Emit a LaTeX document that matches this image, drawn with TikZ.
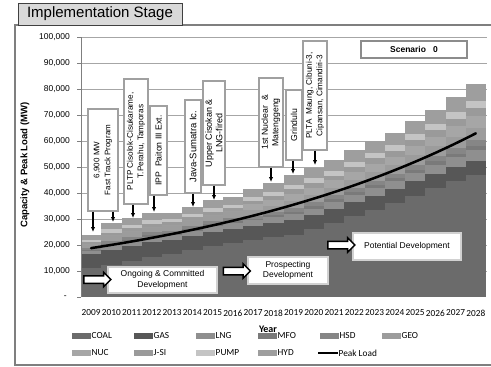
\documentclass[tikz,border=0pt]{standalone}
\usepackage{fontspec}
\setmainfont{Liberation Sans}
\newfontfamily\calfont{Carlito}
\usetikzlibrary{shapes.arrows,arrows.meta}
\definecolor{cCOAL}{HTML}{6B6B6B}
\definecolor{cGAS}{HTML}{575757}
\definecolor{cLNG}{HTML}{8F8F8F}
\definecolor{cMFO}{HTML}{7A7A7A}
\definecolor{cHSD}{HTML}{868686}
\definecolor{cGEO}{HTML}{9C9C9C}
\definecolor{cNUC}{HTML}{A6A6A6}
\definecolor{cJSI}{HTML}{9A9A9A}
\definecolor{cPUMP}{HTML}{C4C4C4}
\definecolor{cHYD}{HTML}{9E9E9E}
\definecolor{framec}{HTML}{7F7F7F}
\definecolor{gridc}{HTML}{A6A6A6}
\definecolor{boxgray}{HTML}{A0A0A0}
\begin{document}
\begin{tikzpicture}[x=1pt,y=-1pt,
  callout/.style={draw=boxgray, fill=white, line width=1.2pt, rotate=90, align=center,
    font=\fontsize{8.7}{10.5}\selectfont, inner sep=1pt},
  devbox/.style={draw=black!18, fill=white, line width=1.2pt, align=center,
    font=\fontsize{8.5}{10.5}\selectfont, inner sep=1pt},
  blockarr/.style={single arrow, draw=black, fill=white, line width=1.5pt,
    minimum height=27pt, inner xsep=0pt, inner ysep=3pt, single arrow head extend=3.5pt,
    single arrow head indent=0pt},
  arr/.style={-{Latex[length=5pt,width=4.5pt]}, line width=1.2pt},
  ylab/.style={anchor=east, font=\fontsize{8.5}{10}\selectfont, inner sep=0pt},
  yrlab/.style={font=\calfont\fontsize{9.3}{11}\selectfont, inner sep=0pt},
  leglab/.style={anchor=west, font=\calfont\fontsize{9.3}{11}\selectfont, inner sep=0.5pt}
]
\useasboundingbox (0,0) rectangle (491,367);
\fill[white] (0,0) rectangle (491,367);
% outer frame
\draw[framec, line width=1.5pt] (493,25) -- (15,25) -- (15,365) -- (493,365);
% title
\node[draw=black!75, fill=black!15, line width=1pt, minimum width=164pt, minimum height=22pt,
  inner sep=0pt, font=\fontsize{15}{18}\selectfont] (title) at (100,14) {Implementation Stage};
% grid
\foreach \k in {1,...,10} \draw[gridc, line width=0.9pt] (81,{297-26*\k}) -- (487,{297-26*\k});
% bars
\begin{scope}[shift={(81,297)}, x=20.25pt, y=2.6pt]
\foreach \i/\tot/\coal in {0/23.8/11, 1/28.5/12.5, 2/30.2/14, 3/32.3/15.5, 4/32.5/16.5,
  5/34.6/18, 6/37.3/19.5, 7/38.5/20.8, 8/41.5/22, 9/43.8/23, 10/47/24, 11/49.6/26,
  12/52.7/28.5, 13/56.5/31, 14/60/33.5, 15/63/36, 16/67.7/39, 17/72/42, 18/77/44.5, 19/82/47}{
  \pgfmathsetmacro\post{\i>7}
  \pgfmathsetmacro\gas{5.5}
  \pgfmathsetmacro\rest{\tot-\coal-\gas}
  \pgfmathsetmacro\yA{\coal}
  \pgfmathsetmacro\yB{\yA+\gas}
  \pgfmathsetmacro\yC{\yB+\rest*(0.18-0.04*\post)}
  \pgfmathsetmacro\yD{\yC+\rest*(0.06-0.01*\post)}
  \pgfmathsetmacro\yE{\yD+\rest*(0.10-0.02*\post)}
  \pgfmathsetmacro\yF{\yE+\rest*(0.20-0.04*\post)}
  \pgfmathsetmacro\yG{\yF+\rest*(0.15*\post)}
  \pgfmathsetmacro\yH{\yG+\rest*0.10}
  \pgfmathsetmacro\yI{\yH+\rest*(0.12-0.02*\post)}
  \fill[cCOAL] (\i,0) rectangle (\i+1,\yA);
  \fill[cGAS] (\i,\yA) rectangle (\i+1,\yB);
  \fill[cLNG] (\i,\yB) rectangle (\i+1,\yC);
  \fill[cMFO] (\i,\yC) rectangle (\i+1,\yD);
  \fill[cHSD] (\i,\yD) rectangle (\i+1,\yE);
  \fill[cGEO] (\i,\yE) rectangle (\i+1,\yF);
  \fill[cNUC] (\i,\yF) rectangle (\i+1,\yG);
  \fill[cJSI] (\i,\yG) rectangle (\i+1,\yH);
  \fill[cPUMP] (\i,\yH) rectangle (\i+1,\yI);
  \fill[cHYD] (\i,\yI) rectangle (\i+1,\tot);
}
\draw[line width=2.5pt, line cap=round] plot[domain=0:19, samples=40, smooth]
  ({\x+0.5},{18.8*1.0657^\x});
\end{scope}
% axis
\draw[framec, line width=0.9pt] (81,37) -- (81,297);
\foreach \k in {0,...,10} \draw[framec, line width=0.9pt] (77,{297-26*\k}) -- (81,{297-26*\k});
\foreach \k/\lab in {1/{10,000},2/{20,000},3/{30,000},4/{40,000},5/{50,000},6/{60,000},
  7/{70,000},8/{80,000},9/{90,000},10/{100,000}}
  \node[ylab] (yl\k) at (70,{297-26*\k}) {\lab};
\node[ylab] (yl0) at (67,297) {-};
\node[rotate=90, font=\bfseries\fontsize{9.5}{11}\selectfont] (ytitle) at (25,165) {Capacity \& Peak Load (MW)};
% year labels
\foreach \i in {0,...,19} {
  \pgfmathtruncatemacro\yr{2009+\i}
  \node[yrlab] (yr\i) at ({81+20.25*(\i+0.5)},313) {\yr};
}
% legend
\foreach \n/\c/\lab in {0/cCOAL/COAL,1/cGAS/GAS,2/cLNG/LNG,3/cMFO/MFO,4/cHSD/HSD,5/cGEO/GEO}{
  \fill[\c] ({72+62*\n},332.5) rectangle ({91+62*\n},338.5);
  \node[leglab] (lg\n) at ({91+62*\n},335.5) {\lab};
}
\foreach \n/\c/\lab in {0/cNUC/NUC,1/cJSI/J-SI,2/cPUMP/PUMP,3/cHYD/HYD}{
  \fill[\c] ({72+62*\n},350) rectangle ({91+62*\n},356);
  \node[leglab] (lh\n) at ({91+62*\n},353) {\lab};
}
\draw[line width=2.5pt] (318,353) -- (338,353);
\node[leglab] (lpk) at (338,353) {Peak Load};
\node[font=\calfont\bfseries\fontsize{10}{12}\selectfont, inner sep=0pt] (xtitle) at (268,329) {Year};
% scenario
\node[draw=black!45, fill=white, line width=1.5pt, minimum width=106pt, minimum height=17pt,
  inner sep=0pt, font=\bfseries\fontsize{8.5}{10}\selectfont] (scen) at (414,49.5) {Scenario\ \ \ 0};
% callouts
\node[callout, minimum width=102pt, minimum height=30pt, font=\fontsize{8}{11}\selectfont] (b1) at (103,160) {6,900 MW\\Fast Track Program};
\node[callout, minimum width=125pt, minimum height=24pt, font=\fontsize{8.2}{10.5}\selectfont] (b2) at (136,141.5) {PLTP Cisolok-Cisukarame,\\T.Perahu, Tamporas};
\node[callout, minimum width=89pt, minimum height=17pt] (b3) at (158.5,150.5) {IPP\ \ Paiton III Ext.};
\node[callout, minimum width=93pt, minimum height=16pt, font=\fontsize{9.5}{11}\selectfont] (b4) at (193,146.5) {Java-Sumatra Ic.};
\node[callout, minimum width=104pt, minimum height=22pt, font=\fontsize{9}{10.5}\selectfont] (b5) at (214,133) {Upper Cisokan \&\\LNG-fired};
\node[callout, minimum width=89pt, minimum height=24pt] (b6) at (271,122.5) {1st Nuclear\ \ \&\\Matenggeng};
\node[callout, minimum width=70pt, minimum height=16pt] (b7) at (294,125) {Grindulu};
\node[callout, minimum width=109pt, minimum height=24pt, font=\fontsize{8.2}{10.5}\selectfont] (b8) at (315,95.5) {PLTA\ \ Maung, Cibuni-3,\\Cipansan, Cimandiri-3};
\coordinate (t1) at (93,232);
\coordinate (t1b) at (113,222);
\coordinate (t2) at (133,218);
\coordinate (t3) at (154,212);
\coordinate (t4) at (193,207);
\coordinate (t5) at (214,200);
\coordinate (t6) at (271,182);
\coordinate (t7) at (293,174);
\coordinate (t8) at (315,165);
\draw[arr] (t1 |- b1.west) -- (t1);
\draw[arr] (t1b |- b1.west) -- (t1b);
\draw[arr] (t2 |- b2.west) -- (t2);
\draw[arr] (t3 |- b3.west) -- (t3);
\draw[arr] (t4 |- b4.west) -- (t4);
\draw[arr] (t5 |- b5.west) -- (t5);
\draw[arr] (t6 |- b6.west) -- (t6);
\draw[arr] (t7 |- b7.west) -- (t7);
\draw[arr] (t8 |- b8.west) -- (t8);
% development boxes
\node[devbox, minimum width=109pt, minimum height=26pt] (d1) at (162.5,280) {Ongoing \& Committed\\Development};
\node[blockarr] (a1) at (95.5,279.5) {};
\node[devbox, minimum width=80pt, minimum height=27pt] (d2) at (288,270.5) {Prospecting\\Development};
\node[blockarr] (a2) at (235,271) {};
\node[devbox, minimum width=108pt, minimum height=27pt] (d3) at (407,246.5) {Potential Development};
\node[blockarr] (a3) at (339.5,245) {};
\end{tikzpicture}
\end{document}
